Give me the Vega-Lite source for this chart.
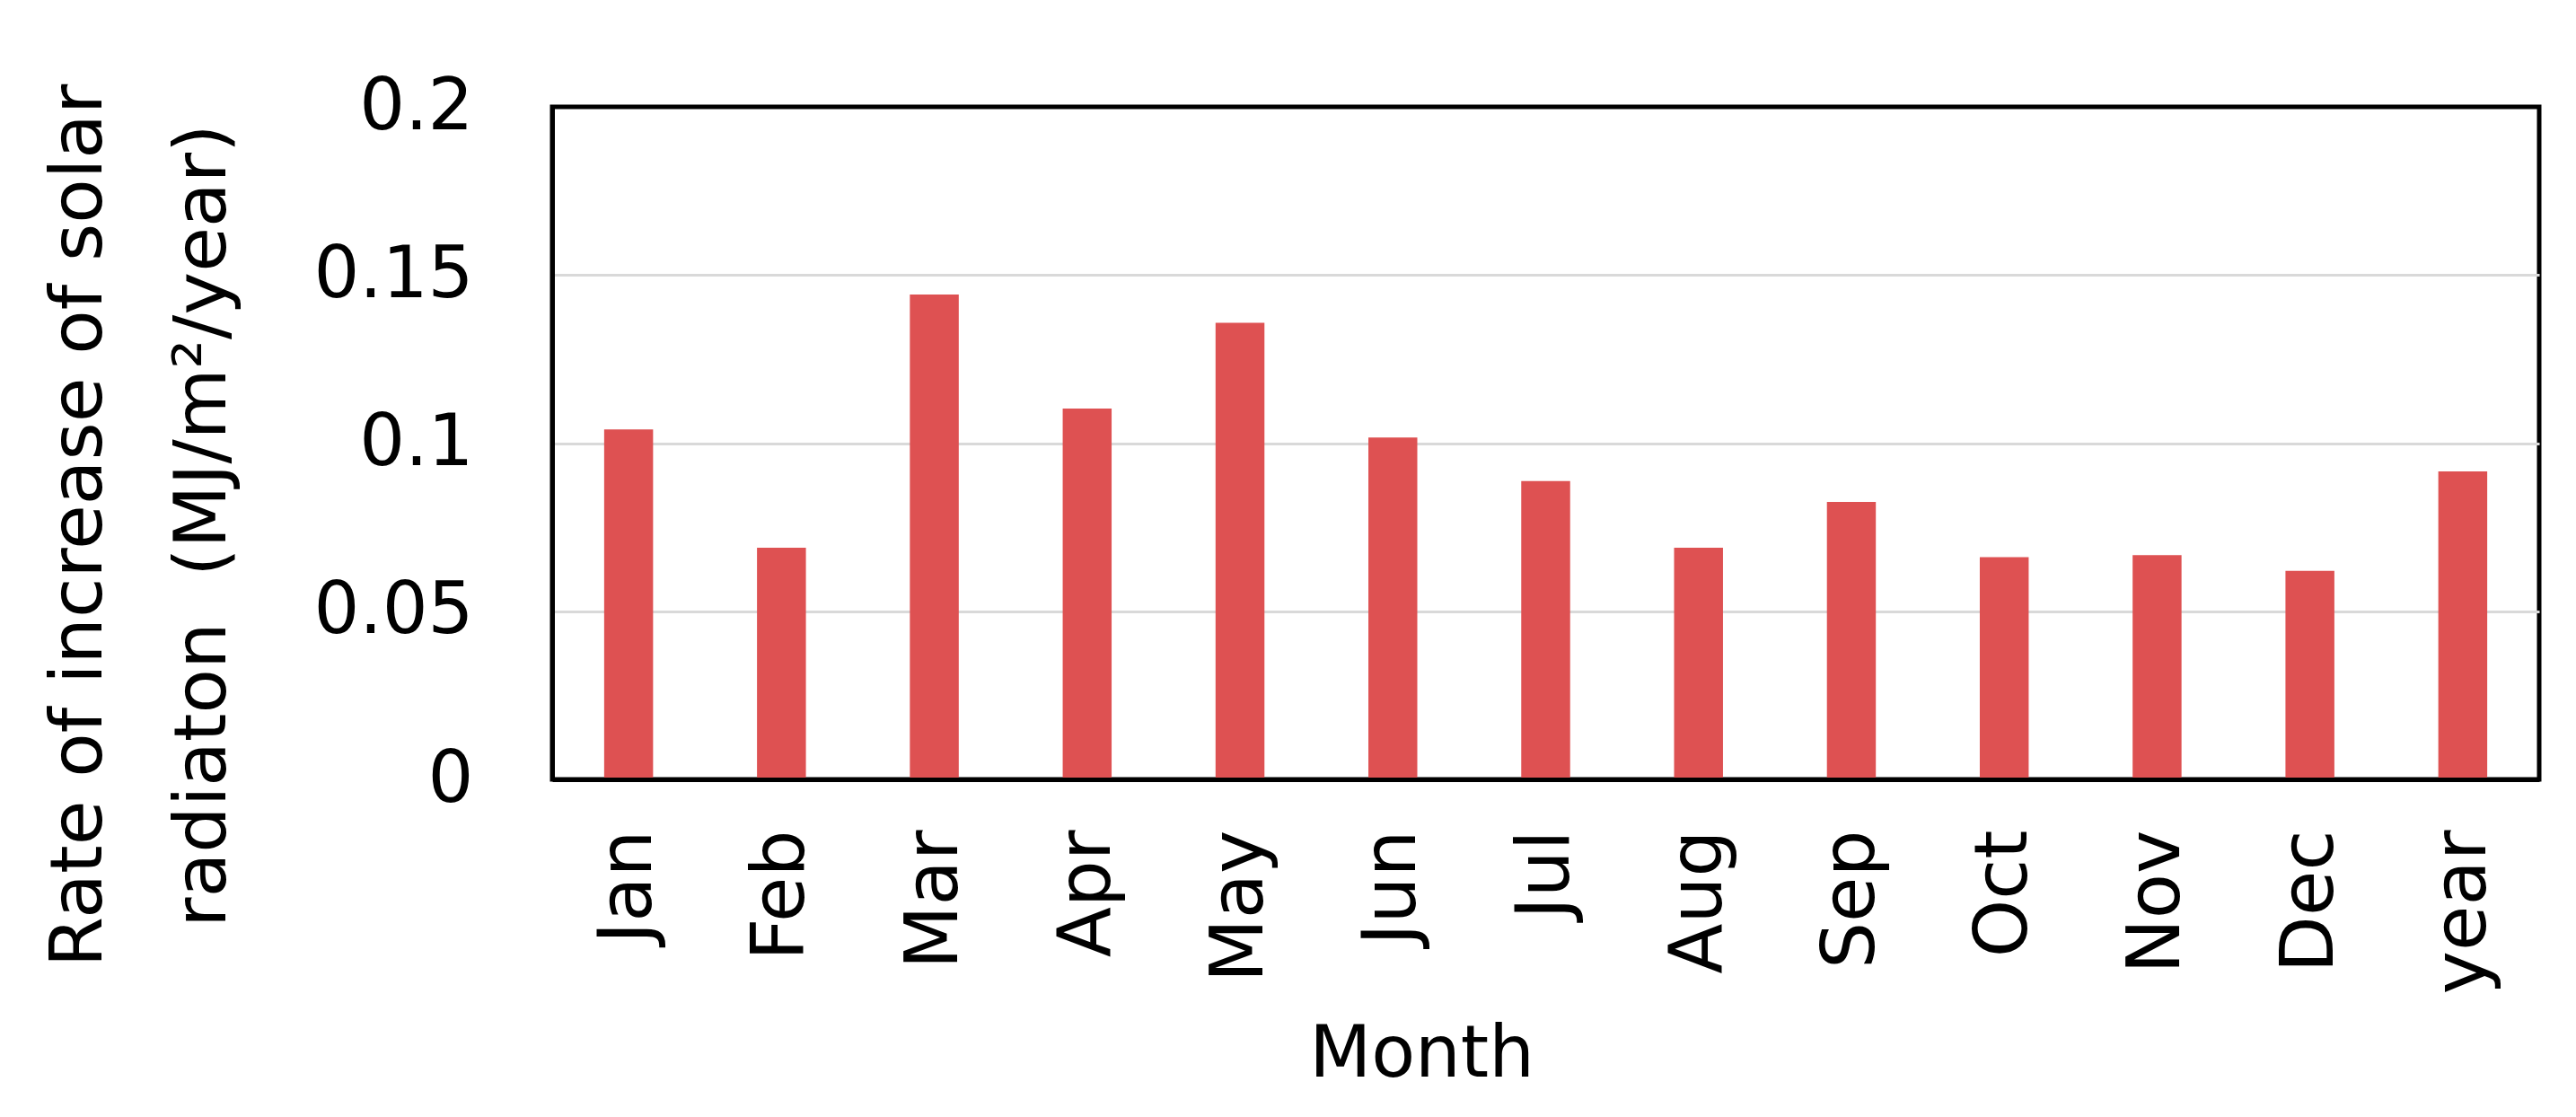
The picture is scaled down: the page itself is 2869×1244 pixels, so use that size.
{
  "$schema": "https://vega.github.io/schema/vega-lite/v6.json",
  "autosize": "none",
  "width": 2213,
  "height": 749,
  "padding": {"left": 615, "top": 119, "right": 41, "bottom": 376},
  "background": "white",
  "config": {
    "font": "DejaVu Sans",
    "view": {"stroke": "#000000", "strokeWidth": 5, "strokeOpacity": 1},
    "axis": {"labelFont": "DejaVu Sans", "titleFont": "DejaVu Sans", "labelColor": "black", "titleColor": "black", "titleFontWeight": "normal", "labelLimit": 0}
  },
  "data": {
    "values": [
      {"month": "Jan", "rate": 0.1041},
      {"month": "Feb", "rate": 0.0689},
      {"month": "Mar", "rate": 0.1442},
      {"month": "Apr", "rate": 0.1103},
      {"month": "May", "rate": 0.1358},
      {"month": "Jun", "rate": 0.1017},
      {"month": "Jul", "rate": 0.0887},
      {"month": "Aug", "rate": 0.0689},
      {"month": "Sep", "rate": 0.0825},
      {"month": "Oct", "rate": 0.0661},
      {"month": "Nov", "rate": 0.0667},
      {"month": "Dec", "rate": 0.062},
      {"month": "year", "rate": 0.0916}
    ]
  },
  "mark": {"type": "bar", "color": "#DE5152"},
  "encoding": {
    "x": {
      "field": "month",
      "type": "nominal",
      "sort": null,
      "scale": {"paddingInner": 0.68, "paddingOuter": 0.34},
      "axis": {
        "title": "Month",
        "titleFontSize": 80,
        "titleX": 968,
        "titleY": 330,
        "titleBaseline": "alphabetic",
        "titleAlign": "center",
        "labelAngle": -90,
        "labelFontSize": 82,
        "labelPadding": 56,
        "labelLimit": 0,
        "ticks": false,
        "domain": true,
        "domainColor": "#000000",
        "domainWidth": 5,
        "zindex": 1,
        "grid": false
      }
    },
    "y": {
      "field": "rate",
      "type": "quantitative",
      "scale": {"domain": [0, 0.2], "nice": false},
      "axis": {
        "title": ["Rate of increase of solar", "radiaton\u00a0 (MJ/m²/year)"],
        "titleFontSize": 81,
        "titleAngle": -90,
        "titleX": -503,
        "titleY": 466,
        "titleAlign": "center",
        "titleBaseline": "alphabetic",
        "titleLineHeight": 138,
        "values": [0, 0.05, 0.1, 0.15, 0.2],
        "format": "~g",
        "labelFontSize": 80,
        "labelPadding": 88,
        "ticks": false,
        "domain": true,
        "domainColor": "#000000",
        "domainWidth": 5,
        "grid": true,
        "gridColor": "#D9D9D9",
        "gridWidth": 3,
        "gridOpacity": {"condition": {"test": "datum.value == 0 || datum.value == 0.2", "value": 0}, "value": 1}
      }
    }
  }
}
